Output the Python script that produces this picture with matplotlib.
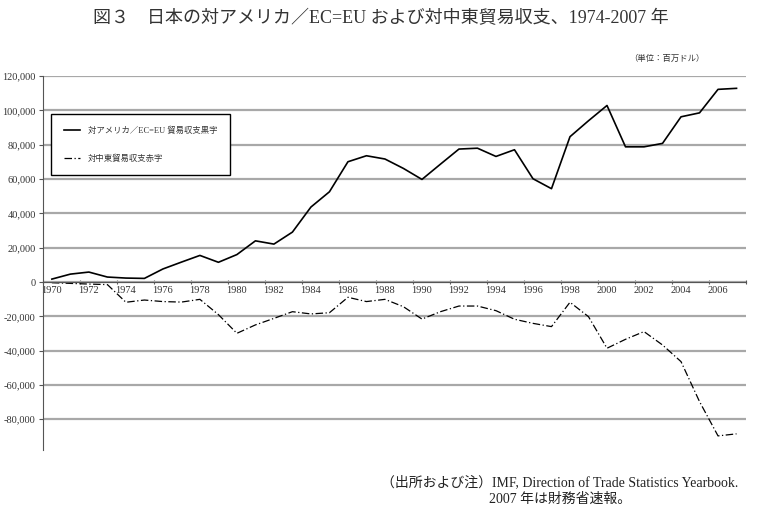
import matplotlib
matplotlib.use("Agg")
import matplotlib.pyplot as plt
import numpy as np

plt.rcParams['font.family'] = ['Liberation Serif', 'Noto Sans CJK JP']

# data (million US$)
years = list(range(1970, 2008))
us_eu_surplus = [1700, 4600, 5800, 2900, 2300, 2100, 7600, 11600, 15500, 11500,
                 16000, 24000, 22100, 29100, 43700, 52600, 70100, 73600, 71700, 66200,
                 59800, 68700, 77500, 78000, 73200, 77100, 60200, 54400, 84700, 94000,
                 102900, 78800, 78800, 80800, 96300, 98600, 112300, 112900]
mideast_deficit = [-400, -800, -1200, -1500, -11800, -10500, -11400, -11700, -10100, -19000,
                   -29900, -25000, -21200, -17300, -18600, -17900, -8900, -11400, -10100, -14400,
                   -21600, -17300, -14000, -14000, -16700, -21700, -24100, -26000, -11800, -20200,
                   -38600, -33400, -28900, -36700, -46400, -69700, -89700, -88500]
yticks = [120000, 100000, 80000, 60000, 40000, 20000, 0, -20000, -40000, -60000, -80000]

label_us = "対アメリカ／EC=EU 貿易収支黒字"
label_me = "対中東貿易収支赤字"

fig = plt.figure(figsize=(7.61, 5.18), dpi=100)
ax = fig.add_axes([0.056, 0.131, 0.924, 0.722])

# category axis: each year sits in the middle of its slot
x = np.arange(len(years)) + 0.5
ax.plot(x, us_eu_surplus, color="black", lw=1.2, label=label_us)
ax.plot(x, mideast_deficit, color="black", lw=0.9, linestyle=(0, (6, 2, 1, 2)), label=label_me)

ax.set_xlim(0, len(years))
ax.set_ylim(-98000, 120000)

# gridlines
ax.set_yticks(yticks)
ax.set_yticklabels([f"{v:,}" for v in yticks], fontsize=7.5, color="#333333")
ax.yaxis.grid(True, color="#a8a8a8", lw=1.6)
ax.set_axisbelow(True)

# x axis crosses at zero
ax.spines['bottom'].set_position(('data', 0))
ax.spines['bottom'].set_color("#555555")
ax.spines['left'].set_color("#555555")
ax.spines['top'].set_visible(False)
ax.spines['right'].set_visible(False)
ax.set_xticks(np.arange(0, len(years) + 1, 2))
ax.set_xticklabels([])
ax.set_xticks(x[::2], minor=True)
ax.set_xticklabels([str(y) for y in years[::2]], minor=True, fontsize=7.5, color="#333333")
ax.tick_params(axis='x', which='minor', length=0, pad=3)
ax.tick_params(axis='x', which='major', length=3, direction='inout', color="#555555")
ax.tick_params(axis='y', length=3, color="#555555", pad=2)

leg = ax.legend(loc="upper left", bbox_to_anchor=(0.012, 0.898), fontsize=6,
                frameon=True, fancybox=False, edgecolor="black", framealpha=1,
                handlelength=2.0, labelspacing=2.25, borderpad=1.5, handletextpad=0.9,
                borderaxespad=0)
leg.get_frame().set_linewidth(1.0)
for t in leg.get_texts():
    t.set_color("#333333")

fig.text(0.5, 0.965, "図３　日本の対アメリカ／EC=EU および対中東貿易収支、1974-2007 年",
         ha="center", va="center", fontsize=13, color="#333333")
fig.text(0.877, 0.886, "（単位：百万ドル）", ha="center", va="center", fontsize=6, color="#333333")
fig.text(0.736, 0.052, "（出所および注）IMF, Direction of Trade Statistics Yearbook.\n2007 年は財務省速報。",
         ha="center", va="center", fontsize=10, color="#222222", linespacing=1.35)

fig.savefig("out.png", dpi=100)
